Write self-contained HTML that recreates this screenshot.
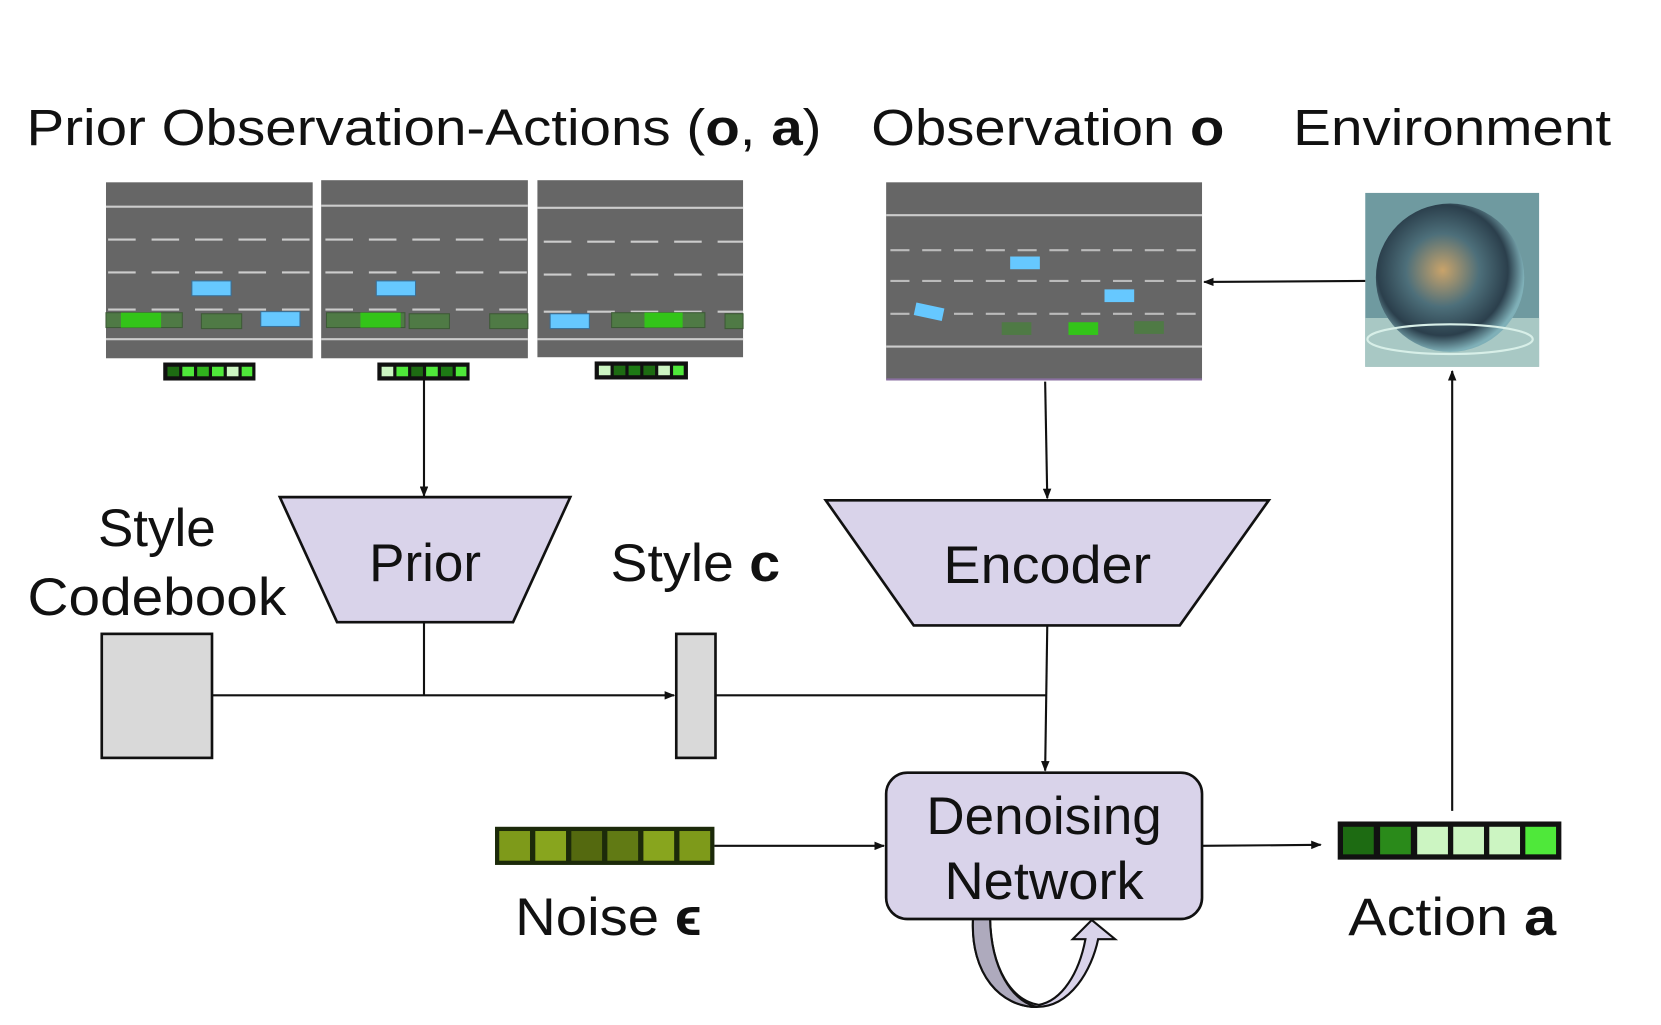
<!DOCTYPE html>
<html><head><meta charset="utf-8"><style>html,body{margin:0;padding:0;background:#fff}svg{display:block}text{font-family:"Liberation Sans",sans-serif;fill:#111}</style></head>
<body>
<svg width="1661" height="1025" viewBox="0 0 1567 967" preserveAspectRatio="none" xmlns="http://www.w3.org/2000/svg">
<defs>
<marker id="ah" markerWidth="10" markerHeight="8" refX="9" refY="4" orient="auto" markerUnits="userSpaceOnUse"><path d="M0,0 L10,4 L0,8 Z" fill="#111"/></marker>
<radialGradient id="gl" cx="45%" cy="45%" r="55%"><stop offset="0" stop-color="#c9a36a"/><stop offset="0.45" stop-color="#4d6f7a"/><stop offset="0.8" stop-color="#2b3f4c"/><stop offset="1" stop-color="#7fb0b8"/></radialGradient>
</defs>
<text x="25" y="137" font-size="48" textLength="750" lengthAdjust="spacingAndGlyphs">Prior Observation-Actions (<tspan font-weight="bold">o</tspan>, <tspan font-weight="bold">a</tspan>)</text>
<text x="822" y="137" font-size="48" textLength="333" lengthAdjust="spacingAndGlyphs">Observation <tspan font-weight="bold">o</tspan></text>
<text x="1220" y="137" font-size="48" textLength="300" lengthAdjust="spacingAndGlyphs">Environment</text>

<rect x="100" y="172" width="195" height="166" fill="#666"/>
<line x1="100" y1="195" x2="295" y2="195" stroke="#ccc" stroke-width="2"/>
<line x1="100" y1="320" x2="295" y2="320" stroke="#ccc" stroke-width="2"/>
<g stroke="#ccc" stroke-width="2" stroke-dasharray="26,15"><line x1="102" y1="226" x2="295" y2="226"/><line x1="102" y1="257" x2="295" y2="257"/><line x1="102" y1="292" x2="295" y2="292"/></g>
<rect x="100" y="295" width="72" height="14" fill="#4f7a45" stroke="#3d5a36"/><rect x="114" y="295" width="38" height="14" fill="#33c419"/>
<rect x="190" y="296" width="38" height="14" fill="#4f7a45" stroke="#3d5a36"/>
<rect x="181" y="265" width="37" height="14" fill="#66c8ff" stroke="#3a6f96"/>
<rect x="246" y="294" width="37" height="14" fill="#66c8ff" stroke="#3a6f96"/>

<rect x="303" y="170" width="195" height="168" fill="#666"/>
<line x1="303" y1="194" x2="498" y2="194" stroke="#ccc" stroke-width="2"/>
<line x1="303" y1="320" x2="498" y2="320" stroke="#ccc" stroke-width="2"/>
<g stroke="#ccc" stroke-width="2" stroke-dasharray="26,15"><line x1="307" y1="226" x2="498" y2="226"/><line x1="307" y1="257" x2="498" y2="257"/><line x1="307" y1="292" x2="498" y2="292"/></g>
<rect x="308" y="295" width="74" height="14" fill="#4f7a45" stroke="#3d5a36"/><rect x="340" y="295" width="38" height="14" fill="#33c419"/>
<rect x="386" y="296" width="38" height="14" fill="#4f7a45" stroke="#3d5a36"/>
<rect x="462" y="296" width="36" height="14" fill="#4f7a45" stroke="#3d5a36"/>
<rect x="355" y="265" width="37" height="14" fill="#66c8ff" stroke="#3a6f96"/>

<rect x="507" y="170" width="194" height="167" fill="#666"/>
<line x1="507" y1="196" x2="701" y2="196" stroke="#ccc" stroke-width="2"/>
<line x1="507" y1="320" x2="701" y2="320" stroke="#ccc" stroke-width="2"/>
<g stroke="#ccc" stroke-width="2" stroke-dasharray="26,15"><line x1="513" y1="228" x2="701" y2="228"/><line x1="513" y1="259" x2="701" y2="259"/><line x1="513" y1="294" x2="701" y2="294"/></g>
<rect x="577" y="295" width="88" height="14" fill="#4f7a45" stroke="#3d5a36"/><rect x="608" y="295" width="36" height="14" fill="#33c419"/>
<rect x="684" y="296" width="17" height="14" fill="#4f7a45" stroke="#3d5a36"/>
<rect x="519" y="296" width="37" height="14" fill="#66c8ff" stroke="#3a6f96"/>

<g stroke="#111" stroke-width="2">
<rect x="155" y="343" width="85" height="15" fill="#111"/>
<rect x="357" y="343" width="85" height="15" fill="#111"/>
<rect x="562" y="342" width="86" height="15" fill="#111"/>
</g>
<g>
<rect x="158" y="346" width="11" height="9" fill="#1d6b12"/><rect x="172" y="346" width="11" height="9" fill="#4fe83a"/><rect x="186" y="346" width="11" height="9" fill="#30b21d"/><rect x="200" y="346" width="11" height="9" fill="#4fe83a"/><rect x="214" y="346" width="11" height="9" fill="#ccf5c2"/><rect x="228" y="346" width="10" height="9" fill="#4fe83a"/>
<rect x="360" y="346" width="11" height="9" fill="#ccf5c2"/><rect x="374" y="346" width="11" height="9" fill="#4fe83a"/><rect x="388" y="346" width="11" height="9" fill="#1d6b12"/><rect x="402" y="346" width="11" height="9" fill="#4fe83a"/><rect x="416" y="346" width="11" height="9" fill="#1d7a14"/><rect x="430" y="346" width="10" height="9" fill="#4fe83a"/>
<rect x="565" y="345" width="11" height="9" fill="#ccf5c2"/><rect x="579" y="345" width="11" height="9" fill="#1d6b12"/><rect x="593" y="345" width="11" height="9" fill="#1d7a14"/><rect x="607" y="345" width="11" height="9" fill="#1d6b12"/><rect x="621" y="345" width="11" height="9" fill="#ccf5c2"/><rect x="635" y="345" width="10" height="9" fill="#4fe83a"/>
</g>

<rect x="836" y="172" width="298" height="186" fill="#666"/>
<line x1="836" y1="358" x2="1134" y2="358" stroke="#8a6fa0" stroke-width="2"/>
<line x1="836" y1="203" x2="1134" y2="203" stroke="#ccc" stroke-width="2"/>
<line x1="836" y1="327" x2="1134" y2="327" stroke="#ccc" stroke-width="2"/>
<g stroke="#bbb" stroke-width="2" stroke-dasharray="18,12"><line x1="840" y1="236" x2="1134" y2="236"/><line x1="840" y1="265" x2="1134" y2="265"/><line x1="840" y1="296" x2="1134" y2="296"/></g>
<rect x="953" y="242" width="28" height="12" fill="#66c8ff"/>
<rect x="1042" y="273" width="28" height="12" fill="#66c8ff"/>
<rect x="863" y="288" width="27" height="12" fill="#66c8ff" transform="rotate(12 876 294)"/>
<rect x="945" y="304" width="28" height="12" fill="#4f7a45"/>
<rect x="1008" y="304" width="28" height="12" fill="#33c419"/>
<rect x="1070" y="303" width="28" height="12" fill="#4f7a45"/>

<rect x="1288" y="182" width="164" height="164" fill="#6f9aa0"/>
<rect x="1288" y="300" width="164" height="46" fill="#a8c8c4"/>
<circle cx="1368" cy="262" r="70" fill="url(#gl)"/>
<ellipse cx="1368" cy="320" rx="78" ry="14" fill="none" stroke="#d8efe8" stroke-width="2"/>

<line x1="1288" y1="265" x2="1136" y2="266" stroke="#111" stroke-width="2" marker-end="url(#ah)"/>
<line x1="400" y1="358" x2="400" y2="468" stroke="#111" stroke-width="2" marker-end="url(#ah)"/>
<line x1="986" y1="360" x2="988" y2="470" stroke="#111" stroke-width="2" marker-end="url(#ah)"/>

<polygon points="264,469 538,469 484,587 318,587" fill="#d9d3ea" stroke="#111" stroke-width="2.5"/>
<text x="401" y="548" font-size="50" text-anchor="middle">Prior</text>
<polygon points="779,472 1197,472 1113,590 862,590" fill="#d9d3ea" stroke="#111" stroke-width="2.5"/>
<text x="988" y="550" font-size="50" text-anchor="middle" textLength="196" lengthAdjust="spacingAndGlyphs">Encoder</text>

<text x="148" y="515" font-size="50" text-anchor="middle">Style</text>
<text x="148" y="580" font-size="50" text-anchor="middle" textLength="244" lengthAdjust="spacingAndGlyphs">Codebook</text>
<text x="576" y="548" font-size="50" textLength="160" lengthAdjust="spacingAndGlyphs">Style <tspan font-weight="bold">c</tspan></text>

<rect x="96" y="598" width="104" height="117" fill="#d9d9d9" stroke="#111" stroke-width="2.5"/>
<rect x="638" y="598" width="37" height="117" fill="#d9d9d9" stroke="#111" stroke-width="2.5"/>
<line x1="200" y1="656" x2="636" y2="656" stroke="#111" stroke-width="2" marker-end="url(#ah)"/>
<line x1="400" y1="587" x2="400" y2="656" stroke="#111" stroke-width="2"/>
<line x1="675" y1="656" x2="987" y2="656" stroke="#111" stroke-width="2"/>
<line x1="988" y1="590" x2="986" y2="727" stroke="#111" stroke-width="2" marker-end="url(#ah)"/>

<path d="M918,866 C915,920 945,950 978,950 C1010,950 1030,915 1036,886 L1052,886 L1030,868 L1012,886 L1024,886 C1018,918 1002,944 980,948 C955,944 935,915 934,866 Z" fill="#d9d3ea" stroke="#111" stroke-width="2"/>
<path d="M918,866 C915,920 945,950 978,950 C955,944 935,915 934,866 Z" fill="#aeaabd" stroke="#111" stroke-width="2"/>

<rect x="836" y="729" width="298" height="138" rx="20" fill="#d9d3ea" stroke="#111" stroke-width="2.5"/>
<text x="985" y="787" font-size="50" text-anchor="middle" textLength="222" lengthAdjust="spacingAndGlyphs">Denoising</text>
<text x="985" y="848" font-size="50" text-anchor="middle" textLength="188" lengthAdjust="spacingAndGlyphs">Network</text>

<rect x="467" y="780" width="207" height="36" fill="#1c2a0a"/>
<g><rect x="471" y="784" width="29" height="28" fill="#7e9a1a"/><rect x="505" y="784" width="29" height="28" fill="#88a51e"/><rect x="539" y="784" width="29" height="28" fill="#54690f"/><rect x="573" y="784" width="29" height="28" fill="#617a14"/><rect x="607" y="784" width="29" height="28" fill="#88a51e"/><rect x="641" y="784" width="29" height="28" fill="#7e9a1a"/></g>
<line x1="674" y1="798" x2="834" y2="798" stroke="#111" stroke-width="2" marker-end="url(#ah)"/>
<text x="486" y="882" font-size="50" textLength="176" lengthAdjust="spacingAndGlyphs">Noise <tspan font-weight="bold">ϵ</tspan></text>

<line x1="1134" y1="798" x2="1246" y2="797" stroke="#111" stroke-width="2" marker-end="url(#ah)"/>
<rect x="1262" y="775" width="211" height="36" fill="#111"/>
<g><rect x="1267" y="780" width="29" height="26" fill="#1d6b12"/><rect x="1302" y="780" width="29" height="26" fill="#2a8a1a"/><rect x="1337" y="780" width="29" height="26" fill="#ccf5c2"/><rect x="1371" y="780" width="29" height="26" fill="#ccf5c2"/><rect x="1405" y="780" width="29" height="26" fill="#ccf5c2"/><rect x="1439" y="780" width="29" height="26" fill="#4fe83a"/></g>
<line x1="1370" y1="765" x2="1370" y2="350" stroke="#111" stroke-width="2" marker-end="url(#ah)"/>
<text x="1272" y="882" font-size="50" textLength="196" lengthAdjust="spacingAndGlyphs">Action <tspan font-weight="bold">a</tspan></text>
</svg>
</body></html>
